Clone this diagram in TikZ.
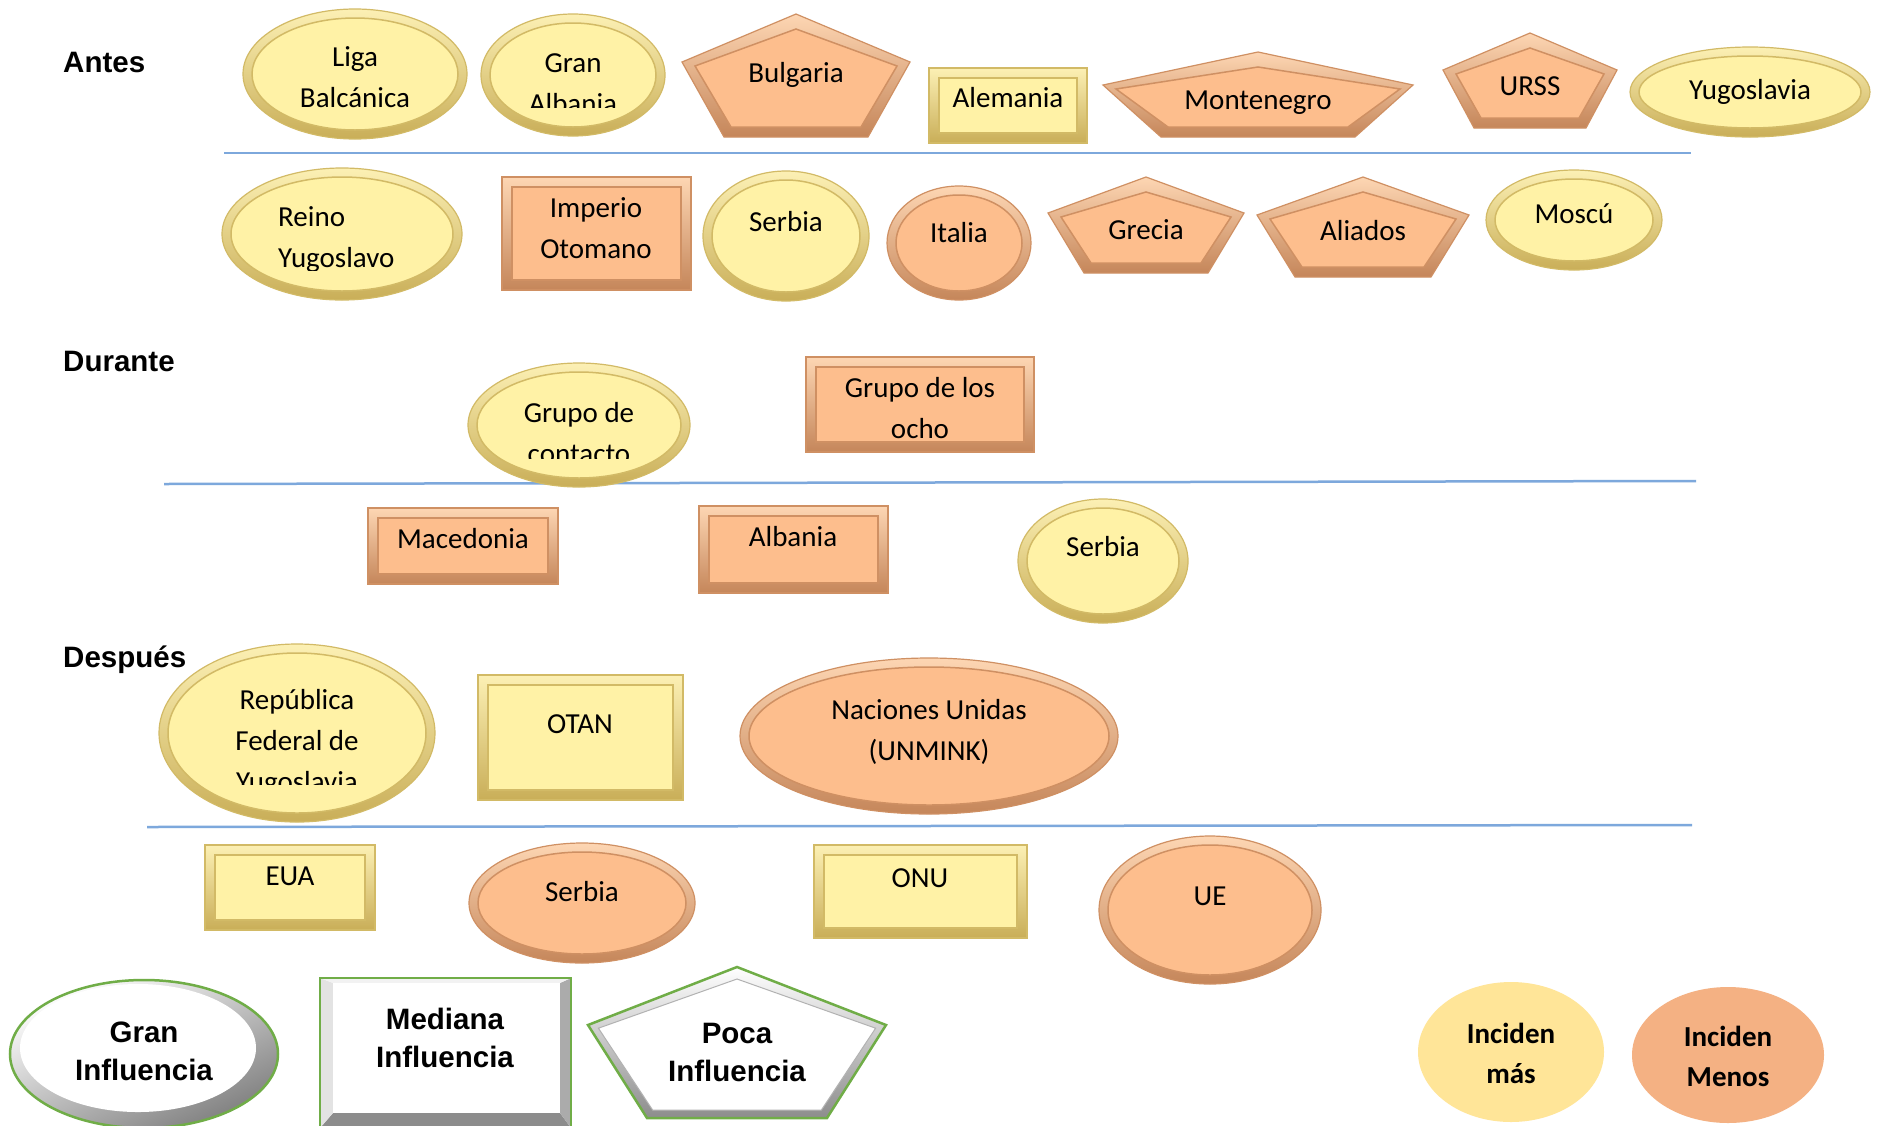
\documentclass[tikz,border=0pt]{standalone}
\usepackage{fontspec}
\setmainfont{Carlito}
\newfontfamily\hdfont{Liberation Sans}
\definecolor{yelfill}{HTML}{FFF2A6}
\definecolor{yelhi}{HTML}{FCF0B4}
\definecolor{yello}{HTML}{C9AE58}
\definecolor{yeledge}{HTML}{D2BA66}
\definecolor{orafill}{HTML}{FDBE8D}
\definecolor{orahi}{HTML}{FDD6B3}
\definecolor{oralo}{HTML}{C5865A}
\definecolor{oraedge}{HTML}{CF9063}
\definecolor{sepblue}{HTML}{7DA8DC}
\definecolor{leggreen}{HTML}{70AD47}
\definecolor{incmas}{HTML}{FFE598}
\definecolor{incmenos}{HTML}{F4B183}
\tikzset{
  yelrim/.style={top color=yelhi, bottom color=yello, draw=yeledge, line width=1.2pt},
  yelin/.style={fill=yelfill, draw=yeledge, line width=1.5pt},
  orarim/.style={top color=orahi, bottom color=oralo, draw=oraedge, line width=1.2pt},
  orain/.style={fill=orafill, draw=oraedge, line width=1.5pt},
  gryrim/.style={top color=white, bottom color=black!45, draw=leggreen, line width=2.5pt},
  gryin/.style={fill=white, draw=black!30, line width=1pt},
  txt/.style={font=\fontsize{29}{41}\selectfont, align=center, inner sep=0pt},
  head/.style={font=\hdfont\bfseries\fontsize{29.5}{36}\selectfont, anchor=west, inner sep=0pt},
  legtxt/.style={font=\hdfont\bfseries\fontsize{29.5}{38}\selectfont, align=center, inner sep=0pt},
  inctxt/.style={font=\bfseries\fontsize{29}{40}\selectfont, align=center, inner sep=0pt},
  sepline/.style={draw=sepblue, line width=2.5pt},
}
\newcommand\bEll[6]{%
  \path[#1rim] (#2,#3) ellipse [x radius=#4, y radius=#5];
  \path[#1in] (#2,#3) ellipse [x radius={#4-#6}, y radius={#5-#6}];
}
\newcommand\bRect[6]{%
  \path[#1rim] (#2,#3) rectangle (#4,#5);
  \path[#1in] ({#2+#6},{#3+#6}) rectangle ({#4-#6},{#5-#6});
}
\newcommand\bPent[8]{%
  \path[#1rim] (#2,#3) -- ({#2+#5},#4) -- ({#2+#6},#7) -- ({#2-#6},#7) -- ({#2-#5},#4) -- cycle;
  \path[#1in] (#2,{#3+1.5*#8}) -- ({#2+#5-1.3*#8},{#4+0.4*#8}) -- ({#2+#6-0.7*#8},{#7-#8}) -- ({#2-#6+0.7*#8},{#7-#8}) -- ({#2-#5+1.3*#8},{#4+0.4*#8}) -- cycle;
}
\begin{document}
\begin{tikzpicture}[x=1pt,y=-1pt]
\useasboundingbox (0,0) rectangle (1881,1125);
\fill[white] (0,0) rectangle (1881,1125);

% separators
\coordinate (s1a) at (224,153); \coordinate (s1b) at (1691,153);
\coordinate (s2a) at (164,484); \coordinate (s2b) at (1696,481);
\coordinate (s3a) at (147,827); \coordinate (s3b) at (1692,825);
\draw[sepline] (s1a) -- (s1b);
\draw[sepline] (s2a) -- (s2b);
\draw[sepline] (s3a) -- (s3b);

% headings
\node[head] (antes) at (63,62) {Antes};
\node[head] (durante) at (63,361) {Durante};
\node[head] (despues) at (63,660) {Después};

% ---- Antes, row 1
\bEll{yel}{355}{74}{112}{65}{9}
\node[txt] (liga) at (355,77) {Liga\\Balcánica};
\bEll{yel}{573}{75}{92}{61}{9}
\begin{scope}
\clip (480,20) rectangle (666,107);
\node[txt] (granalb) at (573,84) {Gran\\Albania};
\end{scope}
\bPent{ora}{796}{14}{62}{114}{72}{137}{10}
\node[txt] (bulgaria) at (796,75) {Bulgaria};
\bRect{yel}{929}{68}{1087}{143}{10}
\node[txt] (alemania) at (1008,98) {Alemania};
\bPent{ora}{1258}{52}{85}{155}{97}{137}{10}
\node[txt] (montenegro) at (1258,103) {Montenegro};
\bPent{ora}{1530}{33}{70}{87}{56}{128}{10}
\node[txt] (urss) at (1530,86) {URSS};
\bEll{yel}{1750}{92}{120}{45}{9}
\node[txt] (yugo) at (1750,92) {Yugoslavia};

% ---- Antes, row 2
\bEll{yel}{342}{234}{120}{66}{9}
\begin{scope}
\clip (222,180) rectangle (462,270);
\node[txt, align=left, anchor=west] (reino) at (278,240) {Reino\\Yugoslavo};
\end{scope}
\bRect{ora}{502}{177}{691}{290}{10}
\node[txt] (imperio) at (596,228) {Imperio\\Otomano};
\bEll{yel}{786}{236}{83}{65}{9}
\node[txt] (serbia1) at (786,222) {Serbia};
\bEll{ora}{959}{243}{72}{57}{9}
\node[txt] (italia) at (959,233) {Italia};
\bPent{ora}{1146}{177}{213}{98}{62}{273}{10}
\node[txt] (grecia) at (1146,230) {Grecia};
\bPent{ora}{1363}{177}{215}{106}{68}{277}{10}
\node[txt] (aliados) at (1363,231) {Aliados};
\bEll{yel}{1574}{220}{88}{50}{9}
\node[txt] (moscu) at (1574,214) {Moscú};

% ---- Durante
\bEll{yel}{579}{425}{111}{62}{9}
\begin{scope}
\clip (470,370) rectangle (690,458);
\node[txt] (contacto) at (579,433) {Grupo de\\contacto};
\end{scope}
\bRect{ora}{806}{357}{1034}{452}{10}
\node[txt] (ocho) at (920,408) {Grupo de los\\ocho};
\bRect{ora}{368}{508}{558}{584}{10}
\node[txt] (macedonia) at (463,539) {Macedonia};
\bRect{ora}{699}{506}{888}{593}{10}
\node[txt] (albania) at (793,537) {Albania};
\bEll{yel}{1103}{561}{85}{62}{9}
\node[txt] (serbia2) at (1103,547) {Serbia};

% ---- Después
\bEll{yel}{297}{733}{138}{89}{9}
\begin{scope}
\clip (160,660) rectangle (436,784);
\node[txt] (republica) at (297,743) {República\\Federal de\\Yugoslavia};
\end{scope}
\bRect{yel}{478}{675}{683}{800}{10}
\node[txt] (otan) at (580,724) {OTAN};
\bEll{ora}{929}{736}{189}{78}{9}
\node[txt] (naciones) at (929,732) {Naciones Unidas\\(UNMINK)};
\bRect{yel}{205}{845}{375}{930}{10}
\node[txt] (eua) at (290,876) {EUA};
\bEll{ora}{582}{903}{113}{60}{9}
\node[txt] (serbia3) at (582,892) {Serbia};
\bRect{yel}{814}{845}{1027}{938}{10}
\node[txt] (onu) at (920,878) {ONU};
\bEll{ora}{1210}{910}{111}{74}{9}
\node[txt] (ue) at (1210,896) {UE};

% ---- Legend
\path[top color=white, bottom color=black!50, shading angle=25, draw=leggreen, line width=2.5pt] (144,1054) ellipse [x radius=134, y radius=74];
\fill[white] (138,1048) ellipse [x radius=118, y radius=64];
\node[legtxt] (gran) at (144,1051) {Gran\\Influencia};

\fill[black!45] (320,1128) -- (571,1128) -- (560,1113) -- (333,1113) -- cycle;
\fill[black!11] (320,978) -- (333,983) -- (333,1113) -- (320,1128) -- cycle;
\fill[black!33] (571,978) -- (560,983) -- (560,1113) -- (571,1128) -- cycle;
\fill[black!5] (320,978) -- (571,978) -- (560,983) -- (333,983) -- cycle;
\fill[white] (333,983) rectangle (560,1113);
\draw[leggreen, line width=2.5pt] (320,978) rectangle (571,1128);
\node[legtxt] (mediana) at (445,1038) {Mediana\\Influencia};

\bPent{gry}{737}{967}{1025}{149}{90}{1118}{8}
\node[legtxt] (poca) at (737,1052) {Poca\\Influencia};

\fill[incmas] (1511,1052) ellipse [x radius=93, y radius=70];
\node[inctxt] (incmas) at (1511,1053) {Inciden\\más};
\fill[incmenos] (1728,1055) ellipse [x radius=96, y radius=68];
\node[inctxt] (incmenos) at (1728,1056) {Inciden\\Menos};
\end{tikzpicture}
\end{document}
